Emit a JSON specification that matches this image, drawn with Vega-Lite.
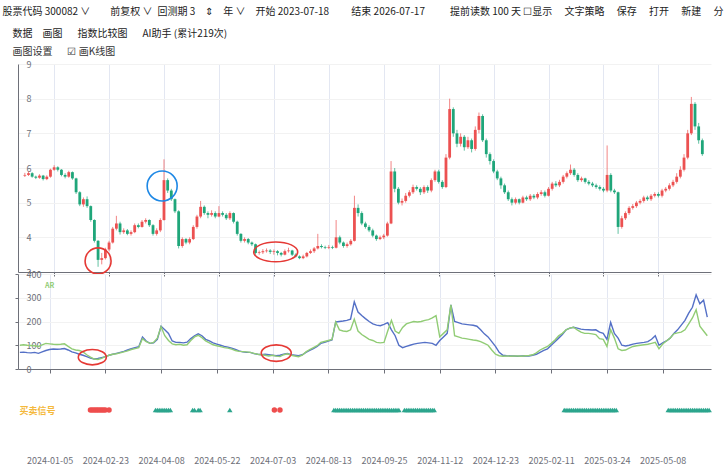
{
  "$schema": "https://vega.github.io/schema/vega-lite/v6.json",
  "padding": {"left": 2, "top": 7, "right": 10, "bottom": 0},
  "bounds": "flush",
  "spacing": 2,
  "background": "white",
  "title": {
    "text": ["股票代码 300082 ∨\u3000\u3000前复权 ∨\u2002回测期 3\u3000⇕\u3000年 ∨\u3000开始 2023-07-18\u3000\u3000 结束 2026-07-17\u3000\u3000\u2002提前读数 100 天 ☐显示\u3000 文字策略\u3000 保存\u3000 打开\u3000 新建\u3000 分", "\u200b\u3000数据\u3000画图\u3000\u2002指数比较图\u3000\u2002AI助手 (累计219次)"],
    "subtitle": "\u200b\u3000画图设置\u3000\u2002☑ 画K线图",
    "anchor": "start",
    "dx": -12,
    "font": "Noto Sans CJK SC",
    "fontSize": 10,
    "fontWeight": "normal",
    "color": "#222222",
    "lineHeight": 22,
    "subtitleFont": "Noto Sans CJK SC",
    "subtitleFontSize": 10,
    "subtitleColor": "#333333",
    "subtitlePadding": 8,
    "offset": 3
  },
  "config": {
    "view": {"stroke": null},
    "font": "Noto Sans CJK SC",
    "axis": {"labelColor": "#6E7079", "labelFontSize": 9, "domainColor": "#6E7079", "tickColor": "#6E7079", "title": null, "labelOverlap": false}
  },
  "datasets": {
    "k": [
      {"t":0,"o":5.78,"h":5.86,"l":5.74,"c":5.8,"a":70,"b":100},
      {"t":2,"o":5.8,"h":5.9,"l":5.77,"c":5.85,"a":71,"b":102},
      {"t":4,"o":5.85,"h":5.88,"l":5.72,"c":5.75,"a":69,"b":100},
      {"t":6,"o":5.75,"h":5.78,"l":5.68,"c":5.72,"a":68,"b":99},
      {"t":8,"o":5.72,"h":5.82,"l":5.69,"c":5.78,"a":70,"b":98},
      {"t":10,"o":5.78,"h":5.8,"l":5.64,"c":5.68,"a":66,"b":95},
      {"t":12,"o":5.68,"h":5.79,"l":5.65,"c":5.75,"a":72,"b":102},
      {"t":14,"o":5.75,"h":5.98,"l":5.72,"c":5.95,"a":78,"b":108},
      {"t":16,"o":5.95,"h":6.08,"l":5.92,"c":6.02,"a":82,"b":106},
      {"t":18,"o":6.02,"h":6.05,"l":5.9,"c":5.95,"a":84,"b":104},
      {"t":20,"o":5.95,"h":5.97,"l":5.76,"c":5.8,"a":83,"b":103},
      {"t":22,"o":5.8,"h":5.85,"l":5.7,"c":5.75,"a":84,"b":104},
      {"t":24,"o":5.75,"h":5.92,"l":5.72,"c":5.88,"a":86,"b":106},
      {"t":26,"o":5.88,"h":5.9,"l":5.66,"c":5.7,"a":80,"b":95},
      {"t":28,"o":5.7,"h":5.72,"l":5.25,"c":5.3,"a":72,"b":85},
      {"t":30,"o":5.3,"h":5.33,"l":4.9,"c":4.95,"a":68,"b":80},
      {"t":32,"o":4.95,"h":5.15,"l":4.88,"c":5.1,"a":62,"b":78},
      {"t":34,"o":5.1,"h":5.18,"l":4.85,"c":4.9,"a":58,"b":72},
      {"t":36,"o":4.9,"h":4.92,"l":4.45,"c":4.5,"a":52,"b":60},
      {"t":38,"o":4.5,"h":4.52,"l":3.85,"c":3.9,"a":46,"b":50},
      {"t":40,"o":3.9,"h":3.92,"l":3.15,"c":3.35,"a":42,"b":42},
      {"t":42,"o":3.35,"h":3.55,"l":3.22,"c":3.4,"a":44,"b":40},
      {"t":44,"o":3.4,"h":3.7,"l":3.36,"c":3.65,"a":48,"b":45},
      {"t":46,"o":3.65,"h":3.9,"l":3.6,"c":3.85,"a":52,"b":52},
      {"t":48,"o":3.85,"h":4.3,"l":3.82,"c":4.25,"a":58,"b":58},
      {"t":50,"o":4.25,"h":4.62,"l":4.2,"c":4.4,"a":62,"b":62},
      {"t":52,"o":4.4,"h":4.45,"l":4.08,"c":4.15,"a":66,"b":64},
      {"t":54,"o":4.15,"h":4.26,"l":4.1,"c":4.2,"a":70,"b":68},
      {"t":56,"o":4.2,"h":4.24,"l":4.06,"c":4.1,"a":74,"b":72},
      {"t":58,"o":4.1,"h":4.2,"l":4.05,"c":4.15,"a":80,"b":76},
      {"t":60,"o":4.15,"h":4.4,"l":4.12,"c":4.35,"a":86,"b":82},
      {"t":62,"o":4.35,"h":4.4,"l":4.26,"c":4.3,"a":90,"b":86},
      {"t":64,"o":4.3,"h":4.5,"l":4.28,"c":4.45,"a":94,"b":90},
      {"t":66,"o":4.45,"h":4.55,"l":4.4,"c":4.5,"a":135,"b":128},
      {"t":68,"o":4.5,"h":4.52,"l":4.3,"c":4.35,"a":118,"b":115},
      {"t":70,"o":4.35,"h":4.38,"l":4.05,"c":4.1,"a":108,"b":108},
      {"t":72,"o":4.1,"h":4.26,"l":4.05,"c":4.2,"a":110,"b":112},
      {"t":74,"o":4.2,"h":4.55,"l":4.15,"c":4.5,"a":125,"b":130},
      {"t":76,"o":4.5,"h":6.25,"l":4.48,"c":5.65,"a":180,"b":178},
      {"t":78,"o":5.65,"h":5.7,"l":5.28,"c":5.35,"a":165,"b":140},
      {"t":80,"o":5.35,"h":5.4,"l":5.05,"c":5.1,"a":150,"b":120},
      {"t":82,"o":5.1,"h":5.12,"l":4.7,"c":4.75,"a":118,"b":106},
      {"t":84,"o":4.75,"h":4.78,"l":3.68,"c":3.75,"a":112,"b":102},
      {"t":86,"o":3.75,"h":4.0,"l":3.7,"c":3.95,"a":112,"b":104},
      {"t":88,"o":3.95,"h":3.98,"l":3.8,"c":3.85,"a":110,"b":100},
      {"t":90,"o":3.85,"h":4.0,"l":3.8,"c":3.95,"a":113,"b":102},
      {"t":92,"o":3.95,"h":4.35,"l":3.92,"c":4.3,"a":128,"b":120},
      {"t":94,"o":4.3,"h":4.65,"l":4.25,"c":4.6,"a":140,"b":135},
      {"t":96,"o":4.6,"h":5.05,"l":4.55,"c":4.88,"a":148,"b":142},
      {"t":98,"o":4.88,"h":4.92,"l":4.65,"c":4.7,"a":140,"b":132},
      {"t":100,"o":4.7,"h":4.75,"l":4.55,"c":4.65,"a":125,"b":118},
      {"t":102,"o":4.65,"h":4.78,"l":4.6,"c":4.7,"a":118,"b":110},
      {"t":104,"o":4.7,"h":4.75,"l":4.55,"c":4.6,"a":110,"b":102},
      {"t":106,"o":4.6,"h":4.9,"l":4.58,"c":4.7,"a":105,"b":98},
      {"t":108,"o":4.7,"h":4.75,"l":4.6,"c":4.65,"a":100,"b":94},
      {"t":110,"o":4.65,"h":4.7,"l":4.5,"c":4.55,"a":95,"b":90},
      {"t":112,"o":4.55,"h":4.75,"l":4.5,"c":4.7,"a":92,"b":88},
      {"t":114,"o":4.7,"h":4.72,"l":4.4,"c":4.45,"a":88,"b":84},
      {"t":116,"o":4.45,"h":4.48,"l":4.05,"c":4.1,"a":82,"b":78},
      {"t":118,"o":4.1,"h":4.12,"l":3.85,"c":3.9,"a":76,"b":74},
      {"t":120,"o":3.9,"h":4.0,"l":3.85,"c":3.95,"a":72,"b":73},
      {"t":122,"o":3.95,"h":3.98,"l":3.8,"c":3.85,"a":70,"b":72},
      {"t":124,"o":3.85,"h":3.88,"l":3.75,"c":3.8,"a":70,"b":70},
      {"t":126,"o":3.8,"h":3.82,"l":3.5,"c":3.55,"a":65,"b":66},
      {"t":128,"o":3.55,"h":3.62,"l":3.5,"c":3.57,"a":62,"b":62},
      {"t":130,"o":3.57,"h":3.66,"l":3.52,"c":3.6,"a":60,"b":60},
      {"t":132,"o":3.6,"h":3.68,"l":3.56,"c":3.62,"a":62,"b":58},
      {"t":134,"o":3.62,"h":3.66,"l":3.52,"c":3.58,"a":60,"b":55},
      {"t":136,"o":3.58,"h":3.65,"l":3.5,"c":3.6,"a":58,"b":58},
      {"t":138,"o":3.6,"h":3.63,"l":3.48,"c":3.55,"a":56,"b":54},
      {"t":140,"o":3.55,"h":3.58,"l":3.45,"c":3.5,"a":58,"b":52},
      {"t":142,"o":3.5,"h":3.65,"l":3.48,"c":3.6,"a":62,"b":60},
      {"t":144,"o":3.6,"h":3.7,"l":3.56,"c":3.62,"a":65,"b":64},
      {"t":146,"o":3.62,"h":3.64,"l":3.46,"c":3.5,"a":60,"b":58},
      {"t":148,"o":3.5,"h":3.54,"l":3.42,"c":3.45,"a":58,"b":55},
      {"t":150,"o":3.45,"h":3.48,"l":3.37,"c":3.4,"a":56,"b":52},
      {"t":152,"o":3.4,"h":3.5,"l":3.37,"c":3.45,"a":60,"b":58},
      {"t":154,"o":3.45,"h":3.58,"l":3.42,"c":3.55,"a":70,"b":72},
      {"t":156,"o":3.55,"h":3.65,"l":3.52,"c":3.6,"a":78,"b":82},
      {"t":158,"o":3.6,"h":3.72,"l":3.55,"c":3.68,"a":86,"b":90},
      {"t":160,"o":3.68,"h":4.1,"l":3.65,"c":3.75,"a":95,"b":98},
      {"t":162,"o":3.75,"h":3.8,"l":3.68,"c":3.72,"a":108,"b":112},
      {"t":164,"o":3.72,"h":3.76,"l":3.66,"c":3.7,"a":112,"b":116},
      {"t":166,"o":3.7,"h":3.78,"l":3.66,"c":3.72,"a":118,"b":120},
      {"t":168,"o":3.72,"h":3.76,"l":3.66,"c":3.7,"a":122,"b":124},
      {"t":170,"o":3.7,"h":4.5,"l":3.68,"c":4.0,"a":198,"b":198},
      {"t":172,"o":4.0,"h":4.05,"l":3.8,"c":3.85,"a":200,"b":165},
      {"t":174,"o":3.85,"h":3.88,"l":3.7,"c":3.75,"a":202,"b":160},
      {"t":176,"o":3.75,"h":3.85,"l":3.7,"c":3.8,"a":205,"b":158},
      {"t":178,"o":3.8,"h":3.95,"l":3.76,"c":3.9,"a":210,"b":165},
      {"t":180,"o":3.9,"h":5.2,"l":3.88,"c":4.85,"a":283,"b":210},
      {"t":182,"o":4.85,"h":4.95,"l":4.6,"c":4.7,"a":240,"b":160},
      {"t":184,"o":4.7,"h":4.75,"l":4.35,"c":4.4,"a":225,"b":145},
      {"t":186,"o":4.4,"h":4.45,"l":4.25,"c":4.3,"a":212,"b":135},
      {"t":188,"o":4.3,"h":4.35,"l":4.15,"c":4.2,"a":200,"b":125},
      {"t":190,"o":4.2,"h":4.25,"l":4.0,"c":4.05,"a":190,"b":120},
      {"t":192,"o":4.05,"h":4.08,"l":3.9,"c":3.95,"a":185,"b":112},
      {"t":194,"o":3.95,"h":4.05,"l":3.92,"c":4.0,"a":182,"b":110},
      {"t":196,"o":4.0,"h":4.1,"l":3.95,"c":4.05,"a":188,"b":112},
      {"t":198,"o":4.05,"h":4.45,"l":4.02,"c":4.4,"a":195,"b":160},
      {"t":200,"o":4.4,"h":6.2,"l":4.38,"c":5.9,"a":165,"b":205},
      {"t":202,"o":5.9,"h":6.0,"l":5.3,"c":5.4,"a":140,"b":160},
      {"t":204,"o":5.4,"h":5.45,"l":4.95,"c":5.0,"a":100,"b":150},
      {"t":206,"o":5.0,"h":5.12,"l":4.92,"c":5.05,"a":90,"b":175},
      {"t":208,"o":5.05,"h":5.28,"l":5.0,"c":5.2,"a":95,"b":190},
      {"t":210,"o":5.2,"h":5.36,"l":5.15,"c":5.3,"a":100,"b":195},
      {"t":212,"o":5.3,"h":5.52,"l":5.25,"c":5.45,"a":105,"b":200},
      {"t":214,"o":5.45,"h":5.5,"l":5.35,"c":5.4,"a":108,"b":198},
      {"t":216,"o":5.4,"h":5.45,"l":5.22,"c":5.3,"a":110,"b":200},
      {"t":218,"o":5.3,"h":5.5,"l":5.25,"c":5.45,"a":112,"b":205},
      {"t":220,"o":5.45,"h":5.5,"l":5.28,"c":5.35,"a":110,"b":208},
      {"t":222,"o":5.35,"h":5.7,"l":5.3,"c":5.65,"a":108,"b":215},
      {"t":224,"o":5.65,"h":5.95,"l":5.6,"c":5.9,"a":100,"b":225},
      {"t":226,"o":5.9,"h":5.95,"l":5.55,"c":5.6,"a":120,"b":135},
      {"t":228,"o":5.6,"h":5.65,"l":5.4,"c":5.45,"a":135,"b":150},
      {"t":230,"o":5.45,"h":6.4,"l":5.42,"c":6.3,"a":150,"b":165},
      {"t":232,"o":6.3,"h":8.0,"l":6.25,"c":7.7,"a":270,"b":270},
      {"t":234,"o":7.7,"h":7.75,"l":6.9,"c":7.0,"a":200,"b":140},
      {"t":236,"o":7.0,"h":7.1,"l":6.6,"c":6.7,"a":195,"b":135},
      {"t":238,"o":6.7,"h":7.0,"l":6.62,"c":6.9,"a":190,"b":130},
      {"t":240,"o":6.9,"h":6.95,"l":6.5,"c":6.6,"a":188,"b":128},
      {"t":242,"o":6.6,"h":6.9,"l":6.55,"c":6.8,"a":186,"b":125},
      {"t":244,"o":6.8,"h":6.85,"l":6.45,"c":6.55,"a":184,"b":122},
      {"t":246,"o":6.55,"h":7.2,"l":6.5,"c":7.1,"a":180,"b":120},
      {"t":248,"o":7.1,"h":7.6,"l":7.0,"c":7.5,"a":165,"b":115},
      {"t":250,"o":7.5,"h":7.55,"l":6.75,"c":6.8,"a":148,"b":108},
      {"t":252,"o":6.8,"h":6.85,"l":6.3,"c":6.4,"a":135,"b":100},
      {"t":254,"o":6.4,"h":6.45,"l":6.1,"c":6.2,"a":115,"b":80},
      {"t":256,"o":6.2,"h":6.25,"l":5.85,"c":5.9,"a":95,"b":62},
      {"t":258,"o":5.9,"h":5.95,"l":5.65,"c":5.7,"a":70,"b":56},
      {"t":260,"o":5.7,"h":5.75,"l":5.4,"c":5.5,"a":58,"b":54},
      {"t":262,"o":5.5,"h":5.55,"l":5.25,"c":5.3,"a":56,"b":55},
      {"t":264,"o":5.3,"h":5.35,"l":5.05,"c":5.1,"a":55,"b":54},
      {"t":266,"o":5.1,"h":5.15,"l":4.92,"c":5.0,"a":55,"b":55},
      {"t":268,"o":5.0,"h":5.15,"l":4.95,"c":5.1,"a":54,"b":55},
      {"t":270,"o":5.1,"h":5.12,"l":4.95,"c":5.0,"a":55,"b":54},
      {"t":272,"o":5.0,"h":5.2,"l":4.98,"c":5.15,"a":56,"b":56},
      {"t":274,"o":5.15,"h":5.2,"l":5.05,"c":5.1,"a":55,"b":57},
      {"t":276,"o":5.1,"h":5.25,"l":5.05,"c":5.2,"a":58,"b":60},
      {"t":278,"o":5.2,"h":5.25,"l":5.1,"c":5.15,"a":62,"b":68},
      {"t":280,"o":5.15,"h":5.3,"l":5.1,"c":5.25,"a":70,"b":80},
      {"t":282,"o":5.25,"h":5.36,"l":5.2,"c":5.3,"a":78,"b":88},
      {"t":284,"o":5.3,"h":5.35,"l":5.15,"c":5.2,"a":85,"b":95},
      {"t":286,"o":5.2,"h":5.45,"l":5.18,"c":5.4,"a":100,"b":108},
      {"t":288,"o":5.4,"h":5.6,"l":5.35,"c":5.55,"a":115,"b":122},
      {"t":290,"o":5.55,"h":5.62,"l":5.45,"c":5.5,"a":130,"b":140},
      {"t":292,"o":5.5,"h":5.66,"l":5.45,"c":5.6,"a":145,"b":150},
      {"t":294,"o":5.6,"h":5.8,"l":5.55,"c":5.75,"a":165,"b":165},
      {"t":296,"o":5.75,"h":5.9,"l":5.7,"c":5.85,"a":172,"b":172},
      {"t":298,"o":5.85,"h":6.1,"l":5.8,"c":5.95,"a":176,"b":176},
      {"t":300,"o":5.95,"h":6.0,"l":5.75,"c":5.8,"a":172,"b":165},
      {"t":302,"o":5.8,"h":5.85,"l":5.6,"c":5.65,"a":168,"b":155},
      {"t":304,"o":5.65,"h":5.75,"l":5.6,"c":5.7,"a":166,"b":150},
      {"t":306,"o":5.7,"h":5.72,"l":5.55,"c":5.6,"a":165,"b":150},
      {"t":308,"o":5.6,"h":5.65,"l":5.5,"c":5.55,"a":164,"b":148},
      {"t":310,"o":5.55,"h":5.6,"l":5.45,"c":5.5,"a":165,"b":145},
      {"t":312,"o":5.5,"h":5.55,"l":5.4,"c":5.45,"a":155,"b":128},
      {"t":314,"o":5.45,"h":5.5,"l":5.35,"c":5.4,"a":150,"b":125},
      {"t":316,"o":5.4,"h":5.45,"l":5.3,"c":5.35,"a":125,"b":95},
      {"t":318,"o":5.35,"h":6.65,"l":5.3,"c":5.8,"a":196,"b":165},
      {"t":320,"o":5.8,"h":5.85,"l":5.3,"c":5.35,"a":150,"b":130},
      {"t":322,"o":5.35,"h":5.4,"l":5.25,"c":5.3,"a":130,"b":85},
      {"t":324,"o":5.3,"h":5.32,"l":4.1,"c":4.3,"a":100,"b":78},
      {"t":326,"o":4.3,"h":4.62,"l":4.25,"c":4.55,"a":97,"b":80},
      {"t":328,"o":4.55,"h":4.75,"l":4.5,"c":4.7,"a":100,"b":88},
      {"t":330,"o":4.7,"h":4.9,"l":4.65,"c":4.85,"a":105,"b":95},
      {"t":332,"o":4.85,"h":4.96,"l":4.8,"c":4.9,"a":108,"b":98},
      {"t":334,"o":4.9,"h":5.05,"l":4.85,"c":5.0,"a":110,"b":100},
      {"t":336,"o":5.0,"h":5.1,"l":4.95,"c":5.05,"a":112,"b":102},
      {"t":338,"o":5.05,"h":5.2,"l":5.0,"c":5.15,"a":115,"b":104},
      {"t":340,"o":5.15,"h":5.2,"l":5.05,"c":5.1,"a":125,"b":108},
      {"t":342,"o":5.1,"h":5.25,"l":5.05,"c":5.2,"a":140,"b":112},
      {"t":344,"o":5.2,"h":5.3,"l":5.15,"c":5.25,"a":100,"b":85},
      {"t":346,"o":5.25,"h":5.3,"l":5.15,"c":5.2,"a":110,"b":105},
      {"t":348,"o":5.2,"h":5.4,"l":5.15,"c":5.35,"a":118,"b":118},
      {"t":350,"o":5.35,"h":5.45,"l":5.3,"c":5.4,"a":130,"b":130},
      {"t":352,"o":5.4,"h":5.56,"l":5.35,"c":5.5,"a":150,"b":148},
      {"t":354,"o":5.5,"h":5.66,"l":5.45,"c":5.6,"a":165,"b":152},
      {"t":356,"o":5.6,"h":5.85,"l":5.55,"c":5.75,"a":185,"b":155},
      {"t":358,"o":5.75,"h":6.05,"l":5.7,"c":5.95,"a":205,"b":165},
      {"t":360,"o":5.95,"h":6.4,"l":5.9,"c":6.3,"a":235,"b":190},
      {"t":362,"o":6.3,"h":7.1,"l":6.25,"c":7.0,"a":260,"b":215},
      {"t":364,"o":7.0,"h":8.05,"l":6.95,"c":7.85,"a":312,"b":250},
      {"t":366,"o":7.85,"h":7.9,"l":7.1,"c":7.2,"a":275,"b":180},
      {"t":368,"o":7.2,"h":7.3,"l":6.7,"c":6.8,"a":290,"b":160},
      {"t":370,"o":6.8,"h":6.85,"l":6.35,"c":6.4,"a":218,"b":140}
    ],
    "sig": [
      {"t":38,"g":"S"},{"t":39,"g":"S"},{"t":40,"g":"S"},{"t":41,"g":"S"},{"t":42,"g":"S"},{"t":43,"g":"S"},{"t":44,"g":"S"},{"t":45,"g":"S"},{"t":46,"g":"S"},{"t":48,"g":"S"},{"t":137,"g":"S"},{"t":140,"g":"S"},
      {"t":73,"g":"B"},{"t":74,"g":"B"},{"t":75,"g":"B"},{"t":76,"g":"B"},{"t":77,"g":"B"},{"t":78,"g":"B"},{"t":79,"g":"B"},{"t":80,"g":"B"},{"t":81,"g":"B"},
      {"t":93,"g":"B"},{"t":94,"g":"B"},{"t":96,"g":"B"},{"t":97,"g":"B"},{"t":113,"g":"B"},
      {"t":169,"g":"B"},{"t":170,"g":"B"},{"t":171,"g":"B"},{"t":172,"g":"B"},{"t":173,"g":"B"},{"t":174,"g":"B"},{"t":175,"g":"B"},{"t":176,"g":"B"},{"t":177,"g":"B"},{"t":178,"g":"B"},{"t":179,"g":"B"},{"t":180,"g":"B"},{"t":181,"g":"B"},{"t":182,"g":"B"},{"t":183,"g":"B"},{"t":184,"g":"B"},{"t":185,"g":"B"},{"t":186,"g":"B"},{"t":187,"g":"B"},{"t":188,"g":"B"},{"t":189,"g":"B"},{"t":190,"g":"B"},{"t":191,"g":"B"},{"t":192,"g":"B"},{"t":193,"g":"B"},{"t":194,"g":"B"},{"t":195,"g":"B"},{"t":196,"g":"B"},{"t":197,"g":"B"},{"t":198,"g":"B"},{"t":199,"g":"B"},{"t":200,"g":"B"},{"t":201,"g":"B"},{"t":202,"g":"B"},{"t":203,"g":"B"},{"t":204,"g":"B"},
      {"t":207,"g":"B"},{"t":208,"g":"B"},{"t":209,"g":"B"},{"t":210,"g":"B"},{"t":211,"g":"B"},{"t":212,"g":"B"},{"t":213,"g":"B"},{"t":214,"g":"B"},{"t":215,"g":"B"},{"t":216,"g":"B"},{"t":217,"g":"B"},{"t":218,"g":"B"},{"t":219,"g":"B"},{"t":220,"g":"B"},{"t":221,"g":"B"},{"t":222,"g":"B"},{"t":223,"g":"B"},
      {"t":293,"g":"B"},{"t":294,"g":"B"},{"t":295,"g":"B"},{"t":296,"g":"B"},{"t":297,"g":"B"},{"t":298,"g":"B"},{"t":299,"g":"B"},{"t":300,"g":"B"},{"t":301,"g":"B"},{"t":302,"g":"B"},{"t":303,"g":"B"},{"t":304,"g":"B"},{"t":305,"g":"B"},{"t":306,"g":"B"},{"t":307,"g":"B"},{"t":308,"g":"B"},{"t":309,"g":"B"},{"t":310,"g":"B"},{"t":311,"g":"B"},{"t":312,"g":"B"},{"t":313,"g":"B"},{"t":314,"g":"B"},{"t":315,"g":"B"},{"t":316,"g":"B"},{"t":317,"g":"B"},{"t":318,"g":"B"},{"t":319,"g":"B"},{"t":320,"g":"B"},{"t":321,"g":"B"},
      {"t":349,"g":"B"},{"t":350,"g":"B"},{"t":351,"g":"B"},{"t":352,"g":"B"},{"t":353,"g":"B"},{"t":354,"g":"B"},{"t":355,"g":"B"},{"t":356,"g":"B"},{"t":357,"g":"B"},{"t":358,"g":"B"},{"t":359,"g":"B"},{"t":360,"g":"B"},{"t":361,"g":"B"},{"t":362,"g":"B"},{"t":363,"g":"B"},{"t":364,"g":"B"},{"t":365,"g":"B"},{"t":366,"g":"B"},{"t":367,"g":"B"},{"t":368,"g":"B"},{"t":369,"g":"B"},{"t":370,"g":"B"},{"t":371,"g":"B"}
    ]
  },
  "vconcat": [
    {
      "width": 693,
      "height": 208,
      "layer": [
        {
          "data": {"name": "k"},
          "mark": {"type": "rule", "strokeWidth": 1, "opacity": 0.7},
          "encoding": {
            "x": {"field": "t", "type": "quantitative", "scale": {"domain": [-1, 372], "nice": false, "zero": false},
              "axis": {"values": [16,46,76,106,136,166,196,226,256,286,316,346], "tickCount": 20, "labels": false, "ticks": true, "tickSize": 4, "grid": true, "gridColor": "#e3e7f2"}},
            "y": {"field": "l", "type": "quantitative", "scale": {"domain": [3, 9], "nice": false, "zero": false},
              "axis": {"values": [3,4,5,6,7,8,9], "format": "d", "tickCount": 10, "labelOverlap": false, "grid": true, "gridColor": "#f2f2f2", "ticks": false, "labelAlign": "left", "labelPadding": -8}},
            "y2": {"field": "h"},
            "color": {"condition": {"test": "datum.c >= datum.o", "value": "#ec5151"}, "value": "#1fa67a"}
          }
        },
        {
          "data": {"name": "k"},
          "mark": {"type": "bar", "size": 2.8},
          "encoding": {
            "x": {"field": "t", "type": "quantitative"},
            "y": {"field": "o", "type": "quantitative"},
            "y2": {"field": "c"},
            "color": {"condition": {"test": "datum.c >= datum.o", "value": "#ec5151"}, "value": "#1fa67a"}
          }
        },
        {
          "data": {"values": [{"t": 40, "p": 3.32}]},
          "mark": {"type": "point", "shape": "M-1,0A1,1 0 1,1 1,0A1,1 0 1,1 -1,0", "size": 676, "filled": false, "stroke": "#e53935", "strokeWidth": 1.6, "opacity": 1},
          "encoding": {"x": {"field": "t", "type": "quantitative"}, "y": {"field": "p", "type": "quantitative"}}
        },
        {
          "data": {"values": [{"t": 75, "p": 5.48}]},
          "mark": {"type": "point", "shape": "M-1,0A1,1 0 1,1 1,0A1,1 0 1,1 -1,0", "size": 900, "filled": false, "stroke": "#1e88e5", "strokeWidth": 1.6, "opacity": 1},
          "encoding": {"x": {"field": "t", "type": "quantitative"}, "y": {"field": "p", "type": "quantitative"}}
        },
        {
          "data": {"values": [{"t": 137, "p": 3.58}]},
          "mark": {"type": "point", "shape": "M-1,0A1,0.45 0 1,1 1,0A1,0.45 0 1,1 -1,0", "size": 1936, "filled": false, "stroke": "#e53935", "strokeWidth": 1.6, "opacity": 1},
          "encoding": {"x": {"field": "t", "type": "quantitative"}, "y": {"field": "p", "type": "quantitative"}}
        }
      ]
    },
    {
      "width": 693,
      "height": 95,
      "layer": [
        {
          "data": {"name": "k"},
          "mark": {"type": "line", "color": "#5470c6", "strokeWidth": 1.4},
          "encoding": {
            "x": {"field": "t", "type": "quantitative", "scale": {"domain": [-1, 372], "nice": false, "zero": false},
              "axis": {"values": [16,46,76,106,136,166,196,226,256,286,316,346], "tickCount": 20, "labels": false, "ticks": true, "tickSize": 4, "grid": true, "gridColor": "#e3e7f2"}},
            "y": {"field": "a", "type": "quantitative", "scale": {"domain": [0, 400], "nice": false},
              "axis": {"values": [0,100,200,300,400], "format": "d", "tickCount": 10, "labelOverlap": false, "grid": true, "gridColor": "#f2f2f2", "ticks": true, "tickSize": 3, "labelAlign": "left", "labelPadding": -11}}
          }
        },
        {
          "data": {"name": "k"},
          "mark": {"type": "line", "color": "#91cc75", "strokeWidth": 1.4},
          "encoding": {
            "x": {"field": "t", "type": "quantitative"},
            "y": {"field": "b", "type": "quantitative"}
          }
        },
        {
          "data": {"values": [{"t": 16, "v": 350, "n": "AR"}]},
          "mark": {"type": "text", "color": "#91cc75", "fontSize": 7, "fontWeight": "bold"},
          "encoding": {"x": {"field": "t", "type": "quantitative"}, "y": {"field": "v", "type": "quantitative"}, "text": {"field": "n"}}
        },
        {
          "data": {"values": [{"t": 39, "v": 50}]},
          "mark": {"type": "point", "shape": "M-1,0A1,0.55 0 1,1 1,0A1,0.55 0 1,1 -1,0", "size": 784, "filled": false, "stroke": "#e53935", "strokeWidth": 1.6, "opacity": 1},
          "encoding": {"x": {"field": "t", "type": "quantitative"}, "y": {"field": "v", "type": "quantitative"}}
        },
        {
          "data": {"values": [{"t": 138, "v": 67}]},
          "mark": {"type": "point", "shape": "M-1,0A1,0.55 0 1,1 1,0A1,0.55 0 1,1 -1,0", "size": 900, "filled": false, "stroke": "#e53935", "strokeWidth": 1.6, "opacity": 1},
          "encoding": {"x": {"field": "t", "type": "quantitative"}, "y": {"field": "v", "type": "quantitative"}}
        }
      ]
    },
    {
      "width": 693,
      "height": 78,
      "data": {"name": "sig"},
      "layer": [
        {
          "transform": [{"filter": "datum.g == 'S'"}],
          "mark": {"type": "point", "shape": "circle", "filled": true, "size": 30, "color": "#ee4d4d", "opacity": 1},
          "encoding": {
            "x": {"field": "t", "type": "quantitative", "scale": {"domain": [-1, 372], "nice": false, "zero": false},
              "axis": {"values": [16,46,76,106,136,166,196,226,256,286,316,346], "tickCount": 20, "domain": false, "ticks": false, "grid": false, "labelPadding": 7,
                "labelExpr": "['2024-01-05','2024-02-23','2024-04-08','2024-05-22','2024-07-03','2024-08-13','2024-09-25','2024-11-12','2024-12-23','2025-02-11','2025-03-24','2025-05-08'][(datum.value-16)/30]"}},
            "y": {"datum": "买卖信号", "type": "nominal",
              "axis": {"domain": false, "ticks": false, "labelAlign": "left", "labelPadding": -1, "labelColor": "#f5b93c", "labelFontWeight": "bold", "labelFontSize": 9}}
          }
        },
        {
          "transform": [{"filter": "datum.g == 'B'"}],
          "mark": {"type": "point", "shape": "triangle-up", "filled": true, "size": 30, "color": "#2ca58d", "opacity": 1},
          "encoding": {
            "x": {"field": "t", "type": "quantitative"},
            "y": {"datum": "买卖信号", "type": "nominal"}
          }
        }
      ]
    }
  ]
}
